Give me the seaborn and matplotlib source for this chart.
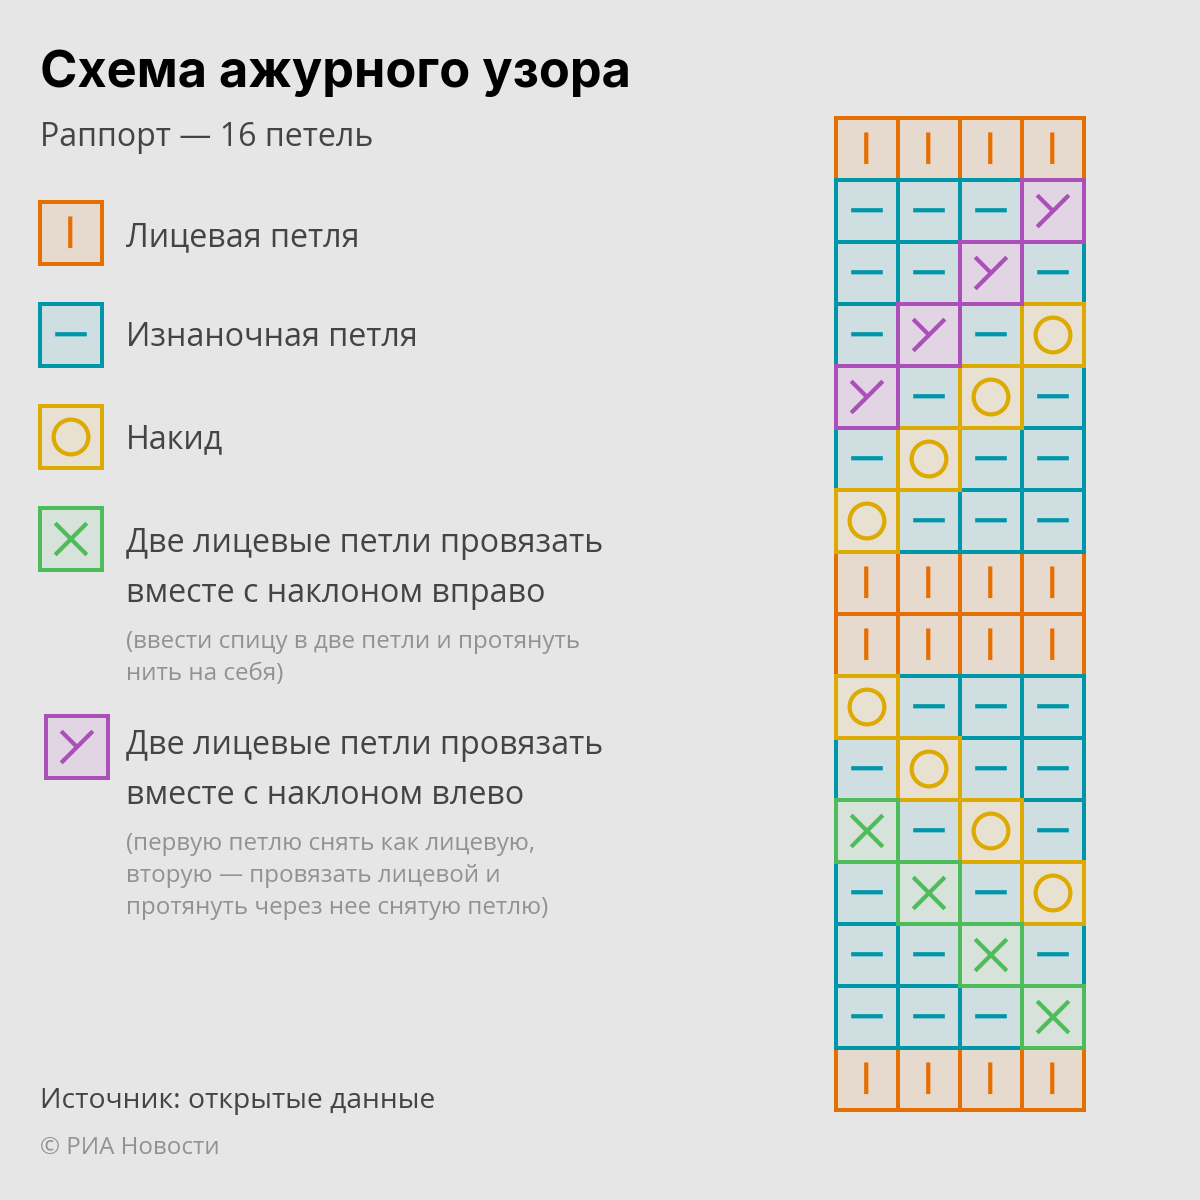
import matplotlib
matplotlib.use("Agg")
import matplotlib.pyplot as plt
import numpy as np
import seaborn as sns
from matplotlib.colors import ListedColormap
from matplotlib.patches import Circle, Rectangle

# Stitch chart, top row first
pattern = [
    ["knit", "knit", "knit", "knit"],
    ["purl", "purl", "purl", "left"],
    ["purl", "purl", "left", "purl"],
    ["purl", "left", "purl", "over"],
    ["left", "purl", "over", "purl"],
    ["purl", "over", "purl", "purl"],
    ["over", "purl", "purl", "purl"],
    ["knit", "knit", "knit", "knit"],
    ["knit", "knit", "knit", "knit"],
    ["over", "purl", "purl", "purl"],
    ["purl", "over", "purl", "purl"],
    ["right", "purl", "over", "purl"],
    ["purl", "right", "purl", "over"],
    ["purl", "purl", "right", "purl"],
    ["purl", "purl", "purl", "right"],
    ["knit", "knit", "knit", "knit"],
]

stitches = ["knit", "purl", "over", "right", "left"]
edge_colors = ["#e56f00", "#0096a9", "#dcaa00", "#4fbc5c", "#aa50b8"]
fill_colors = ["#e6d9ce", "#cfdee1", "#e8e1d2", "#d7e3da", "#e1d5e3"]

legend_labels = [
    ["Лицевая петля"],
    ["Изнаночная петля"],
    ["Накид"],
    ["Две лицевые петли провязать", "вместе с наклоном вправо"],
    ["Две лицевые петли провязать", "вместе с наклоном влево"],
]
legend_notes = [
    [],
    [],
    [],
    ["(ввести спицу в две петли и протянуть", "нить на себя)"],
    ["(первую петлю снять как лицевую,", "вторую — провязать лицевой и", "протянуть через нее снятую петлю)"],
]
title = "Схема ажурного узора"
subtitle = "Раппорт — 16 петель"
source = "Источник: открытые данные"
credit = "© РИА Новости"

BG = "#e6e6e6"
W = H = 1200
CELL = 62
LW = 4 * 0.72
GLYPH_LW = 4.2 * 0.72

sns.set_theme(style="white")
plt.rcParams["font.family"] = ["Open Sans", "DejaVu Sans"]

fmap = ListedColormap(fill_colors)


def px_axes(fig, left, top, width, height):
    return fig.add_axes([left / W, 1 - (top + height) / H, width / W, height / H])


def draw_glyph(ax, kind, x, y, color):
    s = 0.255
    nudge = 0.012  # bars sit a hair off centre in the original
    opts = dict(color=color, lw=GLYPH_LW, solid_capstyle="butt", clip_on=False, zorder=5, snap=False)
    if kind == "knit":
        ax.plot([x - nudge, x - nudge], [y - s - nudge, y + s - nudge], **opts)
    elif kind == "purl":
        ax.plot([x - s, x + s], [y - nudge, y - nudge], **opts)
    elif kind == "over":
        ax.add_patch(Circle((x, y), 0.28, fill=False, ec=color, lw=GLYPH_LW, clip_on=False, zorder=5))
    elif kind == "right":
        ax.plot([x - s, x + s], [y + s, y - s], **opts)
        ax.plot([x - s, x + s], [y - s, y + s], **opts)
    elif kind == "left":
        ax.plot([x - s, x + s], [y + s, y - s], **opts)
        ax.plot([x - s, x], [y - s, y], **opts)


def draw_block(ax, rows):
    codes = np.array([[stitches.index(k) for k in r] for r in rows])
    sns.heatmap(codes, ax=ax, cmap=fmap, vmin=-0.5, vmax=4.5, cbar=False,
                xticklabels=False, yticklabels=False)
    # knit edges lie under purl, and both under the three special stitches
    for rank, kind in enumerate(stitches):
        for r, c in zip(*np.where(codes == rank)):
            ax.add_patch(Rectangle((c, r), 1, 1, fill=False, ec=edge_colors[rank], lw=LW,
                                   clip_on=False, zorder=2 + rank * 0.1))
            draw_glyph(ax, kind, c + 0.5, r + 0.5, edge_colors[rank])


fig = plt.figure(figsize=(12, 12), dpi=100, facecolor=BG)

# main chart
draw_block(px_axes(fig, 836, 118, CELL * 4, CELL * len(pattern)), pattern)

# legend swatches
swatch_pos = [(40, 202), (40, 304), (40, 406), (40, 508), (46, 716)]
for kind, (sx, sy) in zip(stitches, swatch_pos):
    draw_block(px_axes(fig, sx, sy, CELL, CELL), [[kind]])


def put(x, y, s, size, color, **kw):
    fig.text(x / W, 1 - y / H, s, fontsize=size * 0.72, color=color, va="baseline", ha="left", **kw)


put(40, 87, title, 50.5, "#000000", fontweight="bold", family=["Inter", "DejaVu Sans"])
put(40, 146, subtitle, 32.1, "#444444")

label_y = [[246], [346], [448], [552, 602], [754, 804]]
note_y = [[], [], [], [648, 680], [850, 882, 914]]
for lines, ys, notes, nys in zip(legend_labels, label_y, legend_notes, note_y):
    for s, y in zip(lines, ys):
        put(126, y, s, 32.3, "#444444")
    for s, y in zip(notes, nys):
        put(126, y, s, 24.1, "#929292")

put(40, 1108, source, 28.2, "#444444")
put(40, 1154, credit, 24.1, "#929292")

fig.savefig("out.png", dpi=100, facecolor=BG)
